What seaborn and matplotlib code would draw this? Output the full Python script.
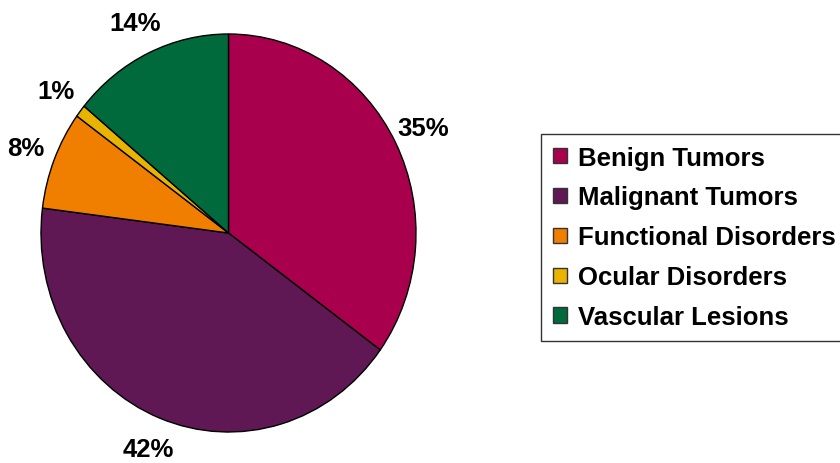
import matplotlib
matplotlib.use("Agg")
import matplotlib.pyplot as plt
import seaborn as sns

categories = ["Benign Tumors", "Malignant Tumors", "Functional Disorders",
              "Ocular Disorders", "Vascular Lesions"]
values = [35, 42, 8, 1, 14]
colors = ["#A8004C", "#5F1854", "#F07F00", "#E8B400", "#006A3C"]

sns.set_theme(style="white")
plt.rcParams["font.family"] = ["Liberation Sans", "DejaVu Sans"]
plt.rcParams["font.weight"] = "bold"
plt.rcParams["text.color"] = "black"

fig = plt.figure(figsize=(8.4, 4.64), dpi=100)
ax = fig.add_axes([41 / 840, 1 - 433 / 464, 375 / 840, 398 / 464])

wedges, texts, autotexts = ax.pie(
    values, colors=colors, startangle=90, counterclock=False,
    autopct="%1.0f%%", pctdistance=1.165,
    wedgeprops=dict(edgecolor="black", linewidth=1.0),
    textprops=dict(fontsize=18.5, fontweight="bold", color="black"),
)
ax.set_aspect("auto")
ax.set_xlim(-1, 1)
ax.set_ylim(-1, 1)

leg = fig.legend(wedges, categories, loc="upper left",
                 bbox_to_anchor=(541 / 840, 1 - 135 / 464), borderaxespad=0,
                 prop=dict(size=18.5, weight="bold"), frameon=True, fancybox=False,
                 edgecolor="black", handlelength=0.55, handleheight=0.55,
                 handletextpad=0.45, labelspacing=0.62, borderpad=0.45,
                 labelcolor="black")
leg.get_frame().set_linewidth(1.0)
for h in leg.legend_handles:
    h.set_edgecolor("#333333")
    h.set_linewidth(1.0)

fig.savefig("out.png", dpi=100)
